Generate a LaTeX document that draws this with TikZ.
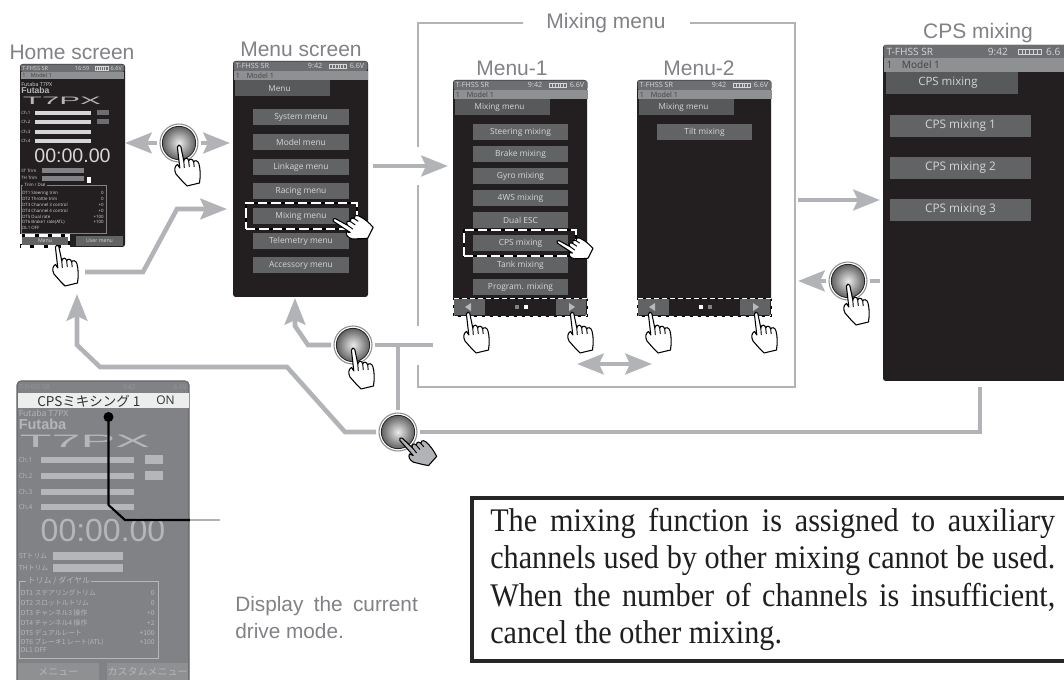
\documentclass[tikz,border=0pt]{standalone}
\usepackage{fontspec}
\usetikzlibrary{arrows.meta}
\setmainfont{Liberation Sans}
\newfontfamily\ui{Open Sans}
\newfontfamily\cjk{Noto Sans CJK JP}
\newfontfamily\bodyserif[FakeStretch=0.915]{Liberation Serif}
\definecolor{scr}{HTML}{231F20}
\definecolor{btn}{HTML}{626365}
\definecolor{tabc}{HTML}{58595B}
\definecolor{topc}{HTML}{6D6E71}
\definecolor{modc}{HTML}{8E9092}
\definecolor{txtc}{HTML}{D5D6D8}
\definecolor{lab}{HTML}{808285}
\definecolor{flow}{HTML}{B1B3B6}
\definecolor{faded}{HTML}{808285}
\definecolor{fadel}{HTML}{B4B6B8}
\newcommand\fpx[1]{\fontsize{\fpeval{#1*0.75}}{\fpeval{#1*0.9}}\selectfont}
\newcommand\vtxt{6.6V}
% box node from corners: name, x0,y0,x1,y1, style, text
\newcommand\bx[7]{%
  \pgfmathsetmacro\bw{(#4-#2)*0.75}\pgfmathsetmacro\bh{(#5-#3)*0.75}%
  \pgfmathsetmacro\bcx{(#2+#4)/2}\pgfmathsetmacro\bcy{(#3+#5)/2}%
  \node[minimum width=\bw pt,minimum height=\bh pt,inner sep=0pt,outer sep=0pt,#6] (#1) at (\bcx,\bcy) {#7};}
% hand: x,y,rotation,scale,fill
\newcommand\hand[5]{%
  \begin{scope}[shift={(#1,#2)},rotate=#3,scale=#4]
    \filldraw[fill=#5,draw=black,line width=0.8pt,line join=round]
      (-1.6,2) .. controls (-1.6,-0.3) and (1.4,-0.6) .. (1.8,1.5) -- (4.8,16)
      .. controls (5.3,12.5) and (9,12) .. (9.7,16)
      .. controls (10.2,13.5) and (14,13.5) .. (14.7,17)
      .. controls (15.2,15) and (19,15) .. (20,19)
      .. controls (21.5,25) and (21.5,31) .. (20.5,38)
      -- (8,41) -- (4,37) -- (-3,29)
      .. controls (-5,25) and (-4.5,21) .. (-1.5,19.5) -- (0.8,23) -- cycle;
    \draw[line width=0.7pt] (4.8,16) -- (5.3,23) (9.7,16) -- (10.3,22) (14.7,17) -- (15.2,22);
  \end{scope}}
% header: prefix,x0,y0,scale,time,tab text
\newcommand\hdr[6]{%
  \pgfmathsetmacro\xb{#2+134*#4}\pgfmathsetmacro\ya{#3+9.5*#4}\pgfmathsetmacro\yb{#3+19*#4}\pgfmathsetmacro\yc{#3+35*#4}%
  \pgfmathsetmacro\xt{#2+2*#4}\pgfmathsetmacro\xm{#2+13*#4}\pgfmathsetmacro\fz{7.2*#4}%
  \pgfmathsetmacro\xtime{#2+89*#4}\pgfmathsetmacro\xbat{#2+96*#4}\pgfmathsetmacro\xbatb{#2+113*#4}\pgfmathsetmacro\xv{#2+116*#4}%
  \pgfmathsetmacro\ymid{#3+4.9*#4}\pgfmathsetmacro\ymod{#3+14.3*#4}\pgfmathsetmacro\xtab{#2+96*#4}%
  \pgfmathsetmacro\ybt{#3+2.8*#4}\pgfmathsetmacro\ybb{#3+7*#4}\pgfmathsetmacro\xtc{#2+46*#4}\pgfmathsetmacro\ytc{#3+27*#4}%
  \pgfmathsetmacro\xtabl{#2+1.5*#4}\pgfmathsetmacro\bfz{8.2*#4}%
  \fill[topc,rounded corners=1.5pt] (#2,#3) rectangle (\xb,\ya);
  \fill[modc] (#2,\ya) rectangle (\xb,\yb);
  \node[anchor=west,inner sep=0pt,text=txtc,font=\ui\fpx{\fz}] (#1tl) at (\xt,\ymid) {T-FHSS SR};
  \node[anchor=east,inner sep=0pt,text=txtc,font=\ui\fpx{\fz}] (#1ti) at (\xtime,\ymid) {#5};
  \draw[txtc,line width=0.5pt] (\xbat,\ybt) rectangle (\xbatb,\ybb);
  \foreach \bq in {1,...,5}{\pgfmathsetmacro\bqx{\xbat+\bq*2.8*#4}\draw[txtc,line width=0.4pt] (\bqx,\ybt) -- (\bqx,\ybb);}
  \node[anchor=west,inner sep=0pt,text=txtc,font=\ui\fpx{\fz}] (#1vo) at (\xv,\ymid) {\vtxt};
  \node[anchor=west,inner sep=0pt,text=scr!85,font=\ui\fpx{\fz}] (#1on) at (\xt,\ymod) {1};
  \node[anchor=west,inner sep=0pt,text=scr!85,font=\ui\fpx{\fz}] (#1mo) at (\xm,\ymod) {Model 1};
  \ifx\relax#6\relax\else
    \fill[tabc] (\xtabl,\yb) rectangle (\xtab,\yc);
    \node[text=txtc,inner sep=0pt,font=\ui\fpx{\bfz}] (#1tb) at (\xtc,\ytc) {#6};
  \fi}
\newcommand\mbtn[6]{\bx{#1}{#2}{#3}{#4}{#5}{fill=btn,text=txtc,font=\ui\fpx{8.4}}{#6}}
\newcommand\nav[4]{%
  \pgfmathsetmacro\xa{#2+1}\pgfmathsetmacro\xba{#2+32}\pgfmathsetmacro\xc{#2+103}\pgfmathsetmacro\xd{#2+133}%
  \pgfmathsetmacro\tla{#2+12}\pgfmathsetmacro\tlb{#2+18}\pgfmathsetmacro\tra{#2+116}\pgfmathsetmacro\trb{#2+122}%
  \pgfmathsetmacro\dota{#2+62}\pgfmathsetmacro\dotb{#2+71}\pgfmathsetmacro\xe{#2+134}%
  \bx{#1l}{\xa}{299}{\xba}{315}{fill=btn}{}
  \bx{#1r}{\xc}{299}{\xd}{315}{fill=btn}{}
  \fill[txtc!75!btn] (\tla,307) -- (\tlb,303) -- (\tlb,311) -- cycle;
  \fill[txtc!75!btn] (\trb,307) -- (\tra,303) -- (\tra,311) -- cycle;
  \fill[#3] (\dota,305.5) rectangle +(4,4);
  \fill[#4] (\dotb,305.5) rectangle +(4,4);
  \bx{#1d}{#2}{298}{\xe}{316}{draw=white,line width=0.6pt,dash pattern=on 4pt off 2pt,preaction={draw=black,line width=0.6pt,solid}}{}}
\tikzset{
  x=0.75pt,y=-0.75pt,
  flowline/.style={draw=flow,line width=3.4pt,line join=miter},
  flowarrow/.style={flowline,-{Stealth[length=20pt,width=15.5pt,inset=3.5pt]}},
  flowtwo/.style={flowline,{Stealth[length=20pt,width=15.5pt,inset=3.5pt]}-{Stealth[length=20pt,width=15.5pt,inset=3.5pt]}},
  framel/.style={draw=flow,line width=1.8pt},
  titlelab/.style={text=lab,inner sep=0pt,font=\fpx{21}},
  screenbox/.style={fill=scr,rounded corners=2pt},
  dashbox/.style={draw=white,line width=1.9pt,dash pattern=on 7pt off 3pt,preaction={draw=black,line width=1.9pt,solid}},
  ring/.style={circle,draw=flow!80!black,fill=white,line width=0.8pt,minimum size=28.5pt,inner sep=0pt,outer sep=2.2pt},
  core/.style={circle,draw=black!85,line width=0.6pt,minimum size=25pt,inner sep=0pt,inner color=white!92!black,outer color=black!62},
  tiny/.style={text=txtc,inner sep=0pt,font=\ui\fpx{4.4}},
  fad/.style={text=fadel,inner sep=0pt,font=\ui\fpx{6.6}},
  fadj/.style={text=fadel,inner sep=0pt,font=\cjk\fpx{6.8}},
}
\begin{document}
\begin{tikzpicture}
\useasboundingbox (0,0) rectangle (1064,680);
\fill[white] (0,0) rectangle (1064,680);
% ---- titles
\node[titlelab] (thome) at (72,52) {Home screen};
\node[titlelab] (tmenu) at (301,49) {Menu screen};
\node[titlelab] (tmix) at (606,23) {Mixing menu};
\node[titlelab] (tm1) at (512,68) {Menu-1};
\node[titlelab] (tm2) at (699,68) {Menu-2};
\node[titlelab] (tcps) at (978,33) {CPS mixing};
% ---- screens
\bx{home}{20}{64}{125}{247}{screenbox}{}
\bx{menu}{233}{61}{368}{297}{screenbox}{}
\bx{mone}{453}{80}{587}{316}{screenbox}{}
\bx{mtwo}{637}{80}{771}{316}{screenbox}{}
\bx{cps}{883}{45}{1090}{381}{screenbox}{}
% ---- home contents
\hdr{hh}{20.5}{64.5}{0.775}{16:59}{}
\node[anchor=west,tiny,font=\ui\fpx{5.4}] (hf1) at (21,84) {Futaba T7PX};
\node[anchor=west,text=fadel,inner sep=0pt,font=\bfseries\fpx{8.6}] (hf2) at (21,90.5) {Futaba};
\node[text=fadel,inner sep=0pt,font=\fpx{12}] (hf3) at (62,100.5) {\scalebox{2.6}[0.9]{T7PX}};
\foreach \yy/\nn in {113/1,122/2,132/3,141/4}{
  \node[anchor=west,tiny] (hc\nn) at (21,\yy) {Ch.\nn};
  \fill[txtc] (35,\yy-1.8) rectangle (91,\yy+1.8);
}
\fill[topc] (97,110.5) rectangle (109,115.5);
\fill[topc] (97,119.5) rectangle (109,124.5);
\node[text=txtc,inner sep=0pt,font=\fpx{19.6}] (htime) at (72.5,156) {00:00.00};
\node[anchor=west,tiny] (hst) at (21,171) {ST Trim};
\node[anchor=west,tiny] (hth) at (21,178) {TH Trim};
\fill[lab] (42,168.5) rectangle (84,173.5);
\fill[lab] (42,176) rectangle (84,181);
\fill[white] (86.5,177) rectangle (91,183);
\draw[lab,line width=0.6pt] (21,185) rectangle (106,233);
\node[anchor=west,tiny,fill=scr,inner xsep=1pt] (htt) at (23,185) {Trim / Dial};
\foreach \yy/\aa/\bb [count=\i] in {193/DT1  Steering trim/0,199/DT2  Throttle trim/0,205/DT3  Channel 3 control/+0,211/DT4  Channel 4 control/+0,217/DT5  Dual rate/+100,222/DT6  Brake1 rate(ATL)/+100,228/DL1  OFF/}{
  \node[anchor=west,tiny] (hra\i) at (22,\yy) {\aa};
  \node[anchor=east,tiny] (hrb\i) at (104,\yy) {\bb};
}
\bx{hmenu}{21}{236}{69}{246}{fill=btn,text=txtc,font=\ui\fpx{5.2}}{Menu}
\bx{huser}{76}{236}{123}{246}{fill=btn,text=txtc,font=\ui\fpx{5.2}}{User menu}
\bx{hdash}{21}{235.5}{69}{246.5}{dashbox}{}
% ---- menu contents
\hdr{mh}{233.5}{61.5}{1}{9:42}{Menu}
\foreach \yy/\tt [count=\i] in {117.5/System menu,142/Model menu,167/Linkage menu,191.5/Racing menu,216/Mixing menu,241/Telemetry menu,265.5/Accessory menu}{
  \pgfmathsetmacro\ya{\yy-8}\pgfmathsetmacro\yb{\yy+8}
  \mbtn{ma\i}{253}{\ya}{349}{\yb}{\tt}
}
\bx{mdash}{246}{203}{357}{229}{dashbox}{}
% ---- menu-1
\hdr{ah}{453.5}{80.5}{1}{9:42}{Mixing menu}
\foreach \yy/\tt [count=\i] in {132.5/Steering mixing,154.5/Brake mixing,176.5/Gyro mixing,198.5/4WS mixing,220.5/Dual ESC,243/CPS mixing,265/Tank mixing,287/Program. mixing}{
  \pgfmathsetmacro\ya{\yy-8}\pgfmathsetmacro\yb{\yy+8}
  \mbtn{ab\i}{473}{\ya}{568}{\yb}{\tt}
}
\bx{adash}{464}{230}{576}{256}{dashbox}{}
\nav{an}{453}{lab}{white}
% ---- menu-2
\hdr{bh}{637.5}{80.5}{1}{9:42}{Mixing menu}
\mbtn{bb1}{657}{124.5}{752}{140.5}{Tilt mixing}
\nav{bn}{637}{white}{lab}
% ---- cps
\renewcommand\vtxt{6.6}
\hdr{ch}{883.5}{45}{1.4}{9:42}{CPS mixing}
\bx{cb1}{890}{115}{1031}{137}{fill=btn,text=txtc,font=\ui\fpx{11.8}}{CPS mixing 1}
\bx{cb2}{890}{157}{1031}{179}{fill=btn,text=txtc,font=\ui\fpx{11.8}}{CPS mixing 2}
\bx{cb3}{890}{199}{1031}{221}{fill=btn,text=txtc,font=\ui\fpx{11.8}}{CPS mixing 3}
% ---- mixing menu frame
\draw[framel] (523,23) -| (418,147);
\draw[framel] (418,185) -- (418,326);
\draw[framel] (418,365) |- (795,387) |- (690,23);
% ---- connector way points
\coordinate (p1) at (85,272);
\coordinate (p2) at (143,272);
\coordinate (p3) at (177,209);
\coordinate (p4) at (227,209);
\coordinate (p5) at (373,166);
\coordinate (p6) at (448,166);
\coordinate (p7) at (798,200);
\coordinate (p8) at (880,200);
\coordinate (p9) at (880,281);
\coordinate (p10) at (798,281);
\coordinate (p11) at (433,345);
\coordinate (p12) at (398,345);
\coordinate (p13) at (308,345);
\coordinate (p14) at (295,326);
\coordinate (p15) at (295,298);
\coordinate (p16) at (345,432);
\coordinate (p17) at (287,367);
\coordinate (p18) at (100,367);
\coordinate (p19) at (77,345);
\coordinate (p20) at (77,294);
\coordinate (p21) at (980,432);
\coordinate (p22) at (980,387);
\coordinate (p23) at (577,364);
\coordinate (p24) at (652,364);
\coordinate (p25) at (125,143);
\coordinate (p26) at (230,143);
% ---- round buttons
\node[ring] (ra) at (179,143) {};
\node[ring] (rb) at (353,345) {};
\node[ring] (rc) at (398,432) {};
\node[ring] (rd) at (848,281) {};
\node[core] (ca) at (ra) {};
\node[core] (cb) at (rb) {};
\node[core] (cc) at (rc) {};
\node[core] (cd) at (rd) {};
% ---- connectors
\draw[flowarrow] (p1) -- (p2) -- (p3) -- (p4);
\draw[flowarrow] (p5) -- (p6);
\draw[flowarrow] (p7) -- (p8);
\draw[flowarrow] (rd) -- (p10);
\draw[flowline] (p9) -- (rd);
\draw[flowarrow] (ra) -- (p25);
\draw[flowarrow] (ra) -- (p26);
\draw[flowline] (p11) -- (rb);
\draw[flowline] (p12) -- (rc);
\draw[flowarrow] (rb) -- (p13) -- (p14) -- (p15);
\draw[flowarrow] (rc) -- (p16) -- (p17) -- (p18) -- (p19) -- (p20);
\draw[flowline] (rc) -- (p21) -- (p22);
\draw[flowtwo] (p23) -- (p24);
% ---- hands
\hand{57}{245}{0}{1}{white}
\hand{179}{145}{0}{1}{white}
\hand{333}{219}{50}{0.95}{white}
\hand{557}{241}{50}{0.85}{white}
\hand{468}{312}{0}{1}{white}
\hand{572}{312}{0}{1}{white}
\hand{650}{312}{0}{1}{white}
\hand{756}{312}{0}{1}{white}
\hand{848}{284}{0}{1}{white}
\hand{353}{348}{0}{1}{white}
\hand{400}{438}{35}{0.95}{flow}
% ---- detail screen
\bx{big}{17}{381}{189}{700}{fill=faded,draw=black!60,line width=0.8pt,rounded corners=3pt}{}
\fill[white!93!black] (17.5,393) rectangle (188.5,408);
\node[anchor=west,text=black!80,inner sep=0pt,font=\cjk\fpx{13.5}] (bt) at (37,401) {CPSミキシング 1};
\node[anchor=west,text=black!80,inner sep=0pt,font=\ui\fpx{12}] (bo) at (156,400) {ON};
\node[anchor=west,fad,text=faded!85!white] (bh1) at (19,387) {T-FHSS SR};
\node[anchor=east,fad,text=faded!85!white] (bh2) at (136,387) {9:42};
\node[anchor=east,fad,text=faded!85!white] (bh3) at (187,387) {6.6V};
\node[anchor=west,inner sep=0pt,text=fadel,font=\ui\fpx{8.6}] (bf1) at (18.5,413) {Futaba T7PX};
\node[anchor=west,inner sep=0pt,text=fadel,font=\bfseries\fpx{14.5}] (bf2) at (18.5,424) {Futaba};
\node[inner sep=0pt,text=fadel,font=\fpx{20}] (bf3) at (85,441) {\scalebox{2.6}[0.9]{T7PX}};
\foreach \yy/\nn in {460/1,476/2,492/3,507/4}{
  \node[anchor=west,fad] (bc\nn) at (18.5,\yy) {Ch.\nn};
  \fill[fadel] (41,\yy-3) rectangle (134,\yy+3);
}
\fill[fadel] (145,455) rectangle (163,464);
\fill[fadel] (145,471) rectangle (163,480);
\node[inner sep=0pt,text=fadel,font=\fpx{32}] (btime) at (103,530) {00:00.00};
\node[anchor=west,fadj] (bs1) at (18.5,556) {STトリム};
\node[anchor=west,fadj] (bs2) at (18.5,568) {THトリム};
\fill[fadel] (53,552) rectangle (123,560);
\fill[fadel] (53,564) rectangle (123,572);
\draw[fadel,line width=0.5pt] (19,581) rectangle (158,658);
\node[anchor=west,fadj,fill=faded,inner xsep=1pt,font=\cjk\fpx{8}] (bttl) at (26,581) {トリム / ダイヤル};
\foreach \yy/\aa/\bb [count=\i] in {593/DT1 ステアリングトリム/0,603/DT2 スロットルトリム/0,613/DT3 チャンネル3 操作/+0,623/DT4 チャンネル4 操作/+2,633/DT5 デュアルレート/+100,642/DT6 ブレーキ1 レート(ATL)/+100,650/DL1 OFF/}{
  \node[anchor=west,fadj] (bra\i) at (20.5,\yy) {\aa};
  \node[anchor=east,fadj] (brb\i) at (155,\yy) {\bb};
}
\bx{bm1}{18}{663}{99}{680}{fill=modc,text=fadel,font=\cjk\fpx{10}}{メニュー}
\bx{bm2}{107}{663}{188}{680}{fill=modc,text=fadel,font=\cjk\fpx{10}}{カスタムメニュー}
% ---- leader
\node[circle,fill=black,inner sep=0pt,minimum size=7.5pt] (dot) at (108.5,417) {};
\coordinate (l1) at (108.5,505);
\coordinate (l2) at (125,520);
\coordinate (l3) at (190,520);
\coordinate (l4) at (220,520);
\draw[black,line width=1.6pt,line join=round] (dot.center) -- (l1) -- (l2) -- (l3);
\draw[flow,line width=1pt] (l3) -- (l4);
\node[anchor=base west,align=left,text=lab,inner sep=0pt,font=\fpx{20.8}] (disp1) at (235,611) {Display\hspace{0.22em} the\hspace{0.22em} current};
\node[anchor=base west,align=left,text=lab,inner sep=0pt,font=\fpx{20.8}] (disp2) at (235,638.5) {drive mode.};
% ---- note
\bx{notebox}{472}{498}{1080}{661}{draw=black!85,line width=3pt}{}
\node[anchor=north west,inner sep=0pt,text width=423.75pt,align=justify,text=black!88,
      font={\bodyserif\fontsize{24.75}{28.2}\selectfont}] (note) at (490,507.5)
  {The mixing function is assigned to auxiliary\linebreak
   channels used by other mixing cannot be used.\linebreak
   When the number of channels is insufficient,\linebreak
   cancel the other mixing.};
\end{tikzpicture}
\end{document}
